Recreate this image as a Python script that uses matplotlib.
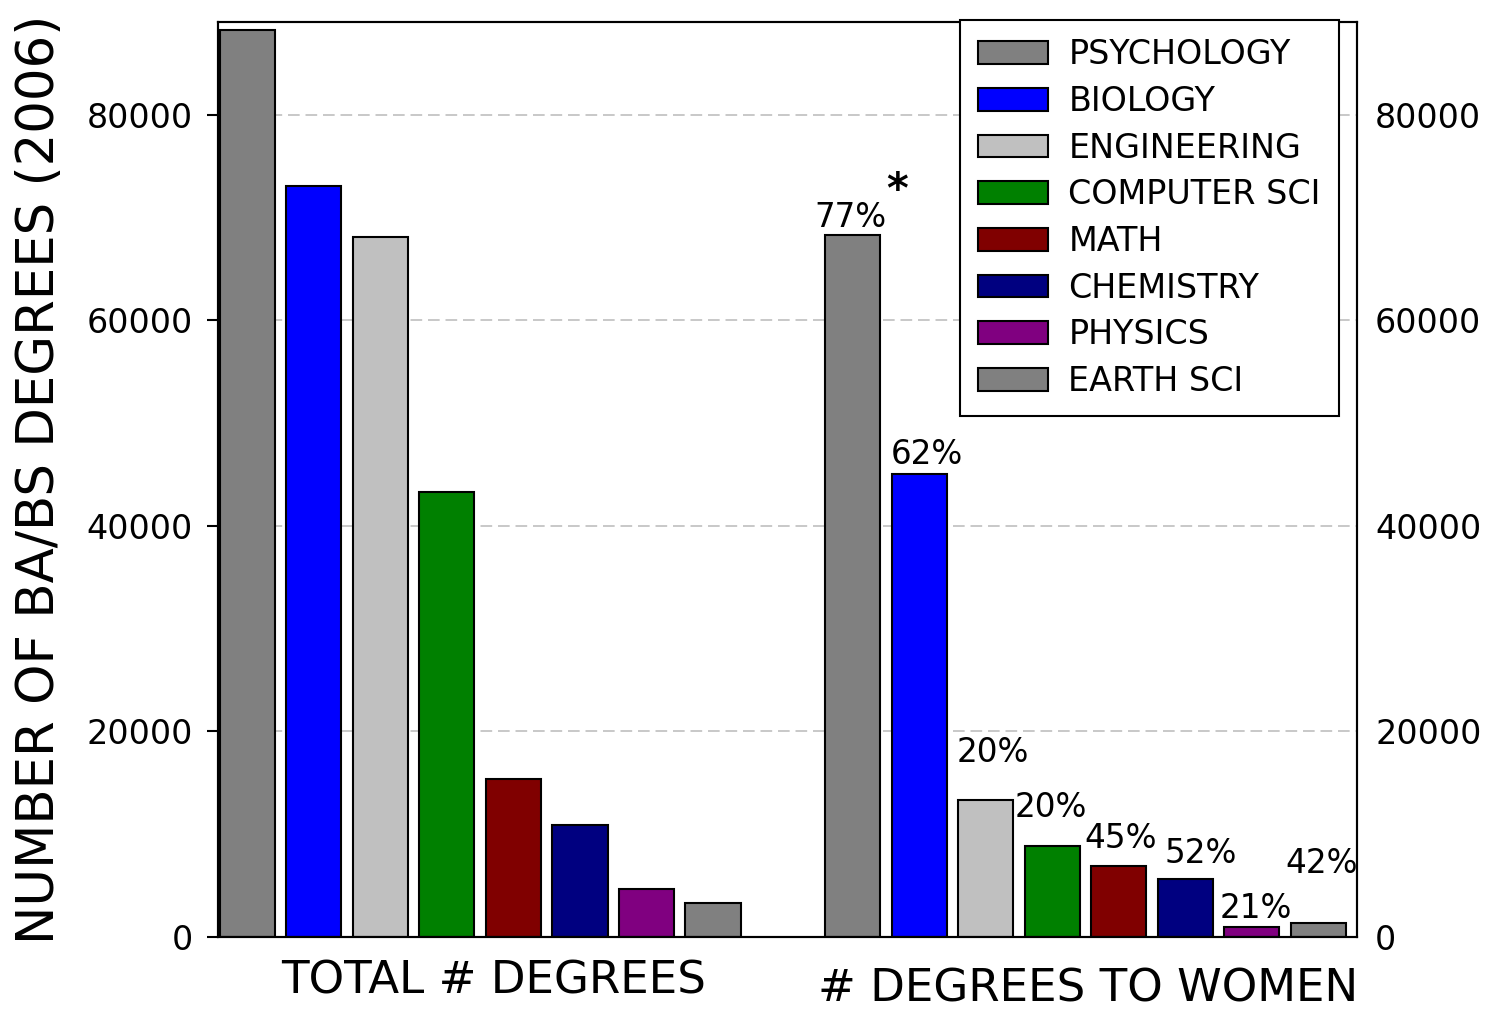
import matplotlib
matplotlib.use("Agg")
import matplotlib.pyplot as plt
import numpy as np
from matplotlib.patches import Patch

# ---- data ----
fields = ["PSYCHOLOGY", "BIOLOGY", "ENGINEERING", "COMPUTER SCI", "MATH",
          "CHEMISTRY", "PHYSICS", "EARTH SCI"]
total_degrees = [88200, 73000, 68100, 43300, 15400, 10900, 4700, 3300]
women_degrees = [68300, 45000, 13300, 8860, 6900, 5650, 970, 1360]
women_pct_labels = ["77%", "62%", "20%", "20%", "45%", "52%", "21%", "42%"]
group_labels = ["TOTAL # DEGREES", "# DEGREES TO WOMEN"]
yticks = [0, 20000, 40000, 60000, 80000]

# ---- style ----
colors = ["#808080", "#0000ff", "#c0c0c0", "#008000", "#800000",
          "#000080", "#800080", "#808080"]
# label offsets (pixels): (dx from bar centre, gap above bar top)
label_offsets_px = [(-2, 8), (8, 10), (7, 38), (-1, 29), (1.5, 18),
                    (15, 16), (4, 9), (3, 50)]

DPI = 100
fig = plt.figure(figsize=(14.92, 10.09), dpi=DPI)
L, R, T, B = 218, 1357, 22, 937
W, H = 1492, 1009
ax = fig.add_axes([L / W, 1 - B / H, (R - L) / W, (B - T) / H])

n = len(fields)
group_gap = 9.1
bar_w = 0.83
x0 = np.arange(n)
x1 = np.arange(n) + group_gap

ax.set_axisbelow(True)
ax.yaxis.grid(True, color="#c8c8c8", linestyle=(0, (6, 3)), linewidth=1.4)

bars0 = ax.bar(x0, total_degrees, width=bar_w, color=colors,
               edgecolor="black", linewidth=1.5)
bars1 = ax.bar(x1, women_degrees, width=bar_w, color=colors,
               edgecolor="black", linewidth=1.5)

ax.set_xlim(-0.44, x1[-1] + 0.58)
ax.set_ylim(0, 89000)
ax.set_xticks([])
ax.set_yticks(yticks)
ax.set_yticklabels([str(v) for v in yticks])
ax.tick_params(axis="y", direction="out", length=8, width=1.5, pad=10,
               labelsize=24)
for sp in ax.spines.values():
    sp.set_linewidth(1.5)

ax2 = ax.twinx()
ax2.set_ylim(ax.get_ylim())
ax2.set_yticks(yticks)
ax2.set_yticklabels([str(v) for v in yticks])
ax2.tick_params(axis="y", direction="in", length=0, pad=13, labelsize=24)
for sp in ax2.spines.values():
    sp.set_linewidth(1.5)

px2pt = 72.0 / DPI
for rect, lab, (dx, dy) in zip(bars1, women_pct_labels, label_offsets_px):
    ax.annotate(lab, xy=(rect.get_x() + rect.get_width() / 2, rect.get_height()),
                xytext=(dx * px2pt, dy * px2pt), textcoords="offset points",
                ha="center", va="baseline", fontsize=23.5)

# asterisk next to the psychology label
r0 = bars1[0]
ax.annotate("*", xy=(r0.get_x() + r0.get_width() / 2, r0.get_height()),
            xytext=(44 * px2pt, 32 * px2pt), textcoords="offset points",
            ha="center", va="baseline", fontsize=30, fontweight="bold")

# group labels
fig.text(494 / W, 1 - 993 / H, group_labels[0], ha="center", va="baseline",
         fontsize=32.5)
fig.text(1088 / W, 1 - 1002 / H, group_labels[1], ha="center", va="baseline",
         fontsize=32.5)

# y label
fig.text(40 / W, 1 - 479 / H, "NUMBER OF BA/BS DEGREES (2006)", rotation=90,
         ha="center", va="center", fontsize=37)

# legend
handles = [Patch(facecolor=c, edgecolor="black", linewidth=1.5) for c in colors]
leg = ax2.legend(handles, fields, loc="upper right",
                 bbox_to_anchor=((1339 - L) / (R - L), 1.0 + 2 / (B - T)),
                 borderaxespad=0, fontsize=24, handlelength=2.1,
                 handleheight=0.66, handletextpad=0.6, borderpad=0.55,
                 labelspacing=0.41, fancybox=False, framealpha=1,
                 edgecolor="black")
leg.get_frame().set_linewidth(1.5)

fig.savefig("out.png", dpi=DPI)
